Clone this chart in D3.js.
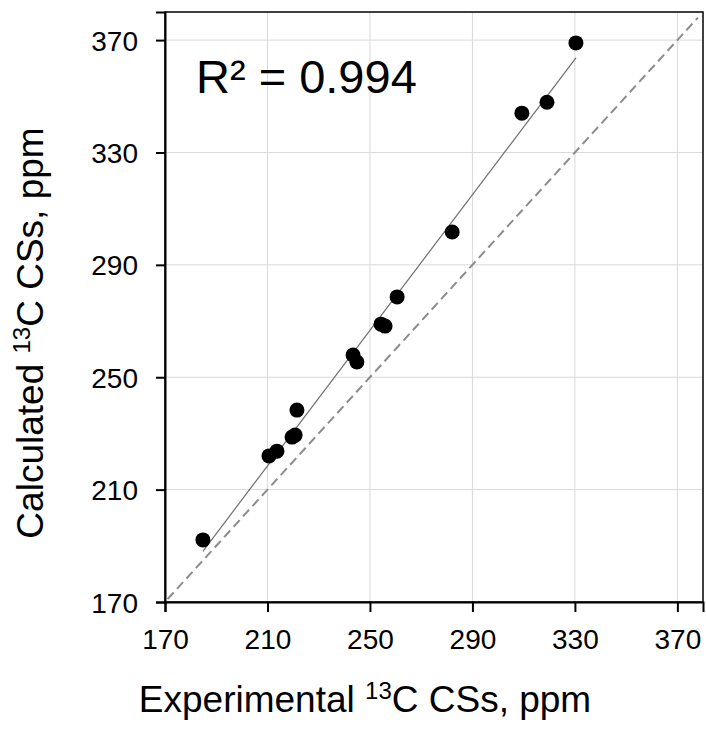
<!DOCTYPE html>
<html>
<head>
<meta charset="utf-8">
<script src="https://cdn.jsdelivr.net/npm/d3@7"></script>
<style>
  body { margin: 0; background: #fff; }
  text { font-family: "Liberation Sans", Arial, sans-serif; fill: #000; }
</style>
</head>
<body>
<div id="chart"></div>
<script>
// experimental vs calculated 13C chemical shifts (ppm)
const expCS = [184.8, 210.6, 213.7, 219.6, 220.8, 221.5, 243.4, 244.9, 254.3, 255.9, 260.6, 282.1, 309.3, 319.1, 330.4];
const calcCS = [192.1, 222.0, 223.7, 228.7, 229.4, 238.3, 257.9, 255.4, 268.9, 268.2, 278.6, 301.7, 344.0, 347.9, 369.0];
const ticks = [170, 210, 250, 290, 330, 370];
const axisDomain = [170, 380];
const identityRange = [171, 378];
const r2Label = "R² = 0.994";

const widthValue = 706;
const heightValue = 729;
const margin = { top: 12, left: 165, bottom: 127, right: 3 };
const width = widthValue - margin.left - margin.right;
const height = heightValue - margin.top - margin.bottom;

const svg = d3.select("#chart").append("svg")
  .attr("width", widthValue)
  .attr("height", heightValue);

const g = svg.append("g").attr("transform", `translate(${margin.left},${margin.top})`);

const x = d3.scaleLinear().domain(axisDomain).range([0, width]);
const y = d3.scaleLinear().domain(axisDomain).range([height, 0]);

// grid
g.selectAll("line.gx").data(ticks.slice(1)).enter().append("line")
  .attr("x1", d => x(d)).attr("x2", d => x(d))
  .attr("y1", 0).attr("y2", height)
  .attr("stroke", "#d9d9d9").attr("stroke-width", 1);
g.selectAll("line.gy").data(ticks.slice(1)).enter().append("line")
  .attr("y1", d => y(d)).attr("y2", d => y(d))
  .attr("x1", 0).attr("x2", width)
  .attr("stroke", "#d9d9d9").attr("stroke-width", 1);

// frame (top/right)
g.append("rect")
  .attr("x", 0).attr("y", 0)
  .attr("width", width).attr("height", height)
  .attr("fill", "none").attr("stroke", "#000").attr("stroke-width", 1.5);

// axes
const xAxis = g.append("g")
  .attr("transform", `translate(0,${height})`)
  .call(d3.axisBottom(x).tickValues(ticks).tickSize(10).tickPadding(17));
const yAxis = g.append("g")
  .call(d3.axisLeft(y).tickValues(ticks).tickSize(9).tickPadding(18));

[xAxis, yAxis].forEach(a => {
  a.select(".domain").attr("stroke", "#000").attr("stroke-width", 2);
  a.selectAll(".tick line").attr("stroke", "#000").attr("stroke-width", 2);
  a.selectAll(".tick text")
    .style("font-family", '"Liberation Sans", Arial, sans-serif')
    .style("font-size", "28px").attr("fill", "#000");
});
yAxis.selectAll(".tick text").attr("dy", "0.36em");

// y = x reference line
g.append("line")
  .attr("x1", x(identityRange[0])).attr("y1", y(identityRange[0]))
  .attr("x2", x(identityRange[1])).attr("y2", y(identityRange[1]))
  .attr("stroke", "#8c8c8c").attr("stroke-width", 2)
  .attr("stroke-dasharray", "9,5");

// least squares fit
const mx = d3.mean(expCS), my = d3.mean(calcCS);
const sxy = d3.sum(expCS, (v, i) => (v - mx) * (calcCS[i] - my));
const sxx = d3.sum(expCS, v => (v - mx) * (v - mx));
const slope = sxy / sxx;
const intercept = my - slope * mx;
const xMin = d3.min(expCS), xMax = d3.max(expCS);

g.append("line")
  .attr("x1", x(xMin)).attr("y1", y(intercept + slope * xMin))
  .attr("x2", x(xMax)).attr("y2", y(intercept + slope * xMax))
  .attr("stroke", "#6e6e6e").attr("stroke-width", 1.2);

// points
g.selectAll("circle").data(expCS).enter().append("circle")
  .attr("cx", d => x(d))
  .attr("cy", (d, i) => y(calcCS[i]))
  .attr("r", 7.5)
  .attr("fill", "#000");

// R² annotation
svg.append("text")
  .attr("x", 196).attr("y", 93)
  .style("font-size", "47px")
  .text(r2Label);

// axis titles
const xt = svg.append("text")
  .attr("x", 365).attr("y", 712)
  .attr("text-anchor", "middle")
  .style("font-size", "37px");
xt.append("tspan").text("Experimental ");
xt.append("tspan").attr("dy", -13).style("font-size", "24px").text("13");
xt.append("tspan").attr("dy", 13).text("C CSs, ppm");

const yt = svg.append("text")
  .attr("transform", "translate(43,333) rotate(-90)")
  .attr("text-anchor", "middle")
  .style("font-size", "37px");
yt.append("tspan").text("Calculated ");
yt.append("tspan").attr("dy", -13).style("font-size", "24px").text("13");
yt.append("tspan").attr("dy", 13).text("C CSs, ppm");
</script>
</body>
</html>
